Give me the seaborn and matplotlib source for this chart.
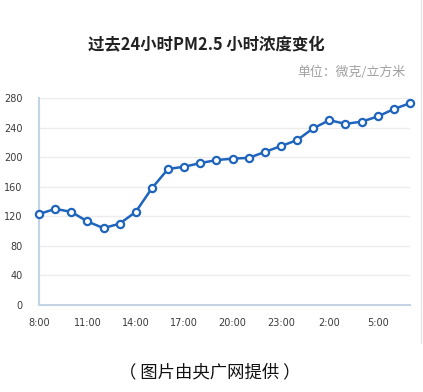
import numpy as np
import pandas as pd
import matplotlib
matplotlib.use("Agg")
import matplotlib.pyplot as plt
from matplotlib.ticker import FixedLocator
import seaborn as sns

# hourly PM2.5 readings, 8:00 today to 7:00 next day
hours = ["8:00", "9:00", "10:00", "11:00", "12:00", "13:00", "14:00", "15:00",
         "16:00", "17:00", "18:00", "19:00", "20:00", "21:00", "22:00", "23:00",
         "0:00", "1:00", "2:00", "3:00", "4:00", "5:00", "6:00", "7:00"]
pm25 = [123, 130, 126, 113, 104, 110, 126, 158, 184, 187, 192, 196,
        198, 199, 207, 215, 223, 239, 250, 245, 248, 255, 265, 273]
y_ticks = [0, 40, 80, 120, 160, 200, 240, 280]

df = pd.DataFrame({"idx": range(len(hours)), "hour": hours, "pm25": pm25})

sns.set_style("white")
plt.rcParams["font.family"] = ["Noto Sans CJK SC", "DejaVu Sans"]

line_col = "#1f65bd"
axis_col = "#c5d3e6"
grid_col = "#ececec"

fig = plt.figure(figsize=(4.23, 3.92), dpi=100)
ax = fig.add_axes([39 / 423, 87 / 392, 371 / 423, 207 / 392])

sns.lineplot(data=df, x="idx", y="pm25", ax=ax, color=line_col, linewidth=1.8,
             marker="o", markersize=5.2, markerfacecolor="white",
             markeredgecolor=line_col, markeredgewidth=1.6, clip_on=False,
             zorder=5)

ax.set_xlim(0, len(hours) - 1)
ax.set_ylim(0, 280)
ax.set_xlabel("")
ax.set_ylabel("")

ax.set_yticks(y_ticks)
ax.set_yticklabels([str(v) for v in y_ticks], family="DejaVu Sans",
                   fontsize=7, color="#3a3a3a")
ax.tick_params(axis="y", length=7.5, width=0.8, color=axis_col, pad=4.5)

lab_idx = list(range(0, len(hours), 3))
ax.set_xticks(lab_idx)
ax.set_xticklabels([hours[i] for i in lab_idx], family="DejaVu Sans",
                   fontsize=7, color="#3a3a3a")
ax.tick_params(axis="x", which="major", length=0, pad=9)
ax.xaxis.set_minor_locator(FixedLocator(np.arange(0.5, len(hours) - 1, 1)))
ax.tick_params(axis="x", which="minor", length=3.5, width=0.8, color=axis_col)

ax.grid(axis="y", color=grid_col, linewidth=1)
for s in ["top", "right"]:
    ax.spines[s].set_visible(False)
for s in ["left", "bottom"]:
    ax.spines[s].set_color(axis_col)
    ax.spines[s].set_linewidth(1.5)

fig.text(206 / 423, 1 - 45 / 392, "过去24小时PM2.5 小时浓度变化", ha="center",
         va="center", fontsize=11.8, fontweight="bold", color="#222222")
fig.text(405 / 423, 1 - 72 / 392, "单位：微克/立方米", ha="right", va="center",
         fontsize=9.3, color="#a0a0a0")
fig.text(210 / 423, 1 - 372 / 392, "（ 图片由央广网提供 ）", ha="center",
         va="center", fontsize=12.5, color="#111111")

# faint frame line of the original screenshot
fig.add_artist(plt.Line2D([421 / 423, 421 / 423], [1 - 343 / 392, 1],
                          color="#e6e6e6", linewidth=1))

fig.savefig("out.png", dpi=100)
